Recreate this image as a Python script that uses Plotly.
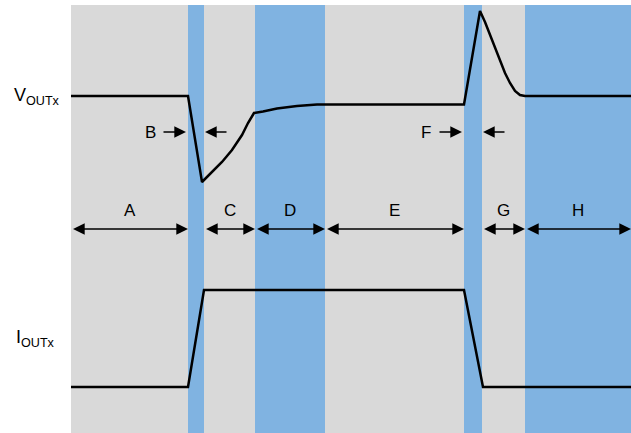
import plotly.graph_objects as go

# phase boundaries (time, arbitrary units) and band colours
phase_names = ["A", "B", "C", "D", "E", "F", "G", "H"]
phase_edges = [0, 117, 133, 184, 254, 393, 411, 454, 560]
phase_blue = [False, True, False, True, False, True, False, True]

# output voltage waveform
v_t = [-1, 117, 131, 141, 151, 161, 171, 177, 183, 192, 206, 226, 246,
       393, 409, 414, 419, 424, 429, 434, 439, 444, 449, 454, 560]
v_y = [337, 337, 251, 261, 271, 283, 298, 310, 320, 321.5, 324.5, 327, 328.5,
       328.5, 422, 411, 398, 385, 371, 360, 350, 342, 338, 337, 337]

# output current waveform
i_t = [-1, 117, 133, 393, 412, 560]
i_y = [46, 46, 143, 143, 46, 46]

# interval-marker rows
span_y = 204
span_label_y = 223
narrow_y = 301

GRAY = "#d9d9d9"
BLUE = "#80b3e1"
FONT = "Liberation Sans, Arial, sans-serif"

fig = go.Figure()

for k in range(len(phase_names)):
    fig.add_shape(type="rect", xref="x", yref="y",
                  x0=phase_edges[k], x1=phase_edges[k + 1], y0=0, y1=428,
                  fillcolor=BLUE if phase_blue[k] else GRAY, line_width=0, layer="below")

fig.add_trace(go.Scatter(x=v_t, y=v_y, mode="lines", line=dict(color="black", width=2.5),
                         cliponaxis=False, hoverinfo="skip"))
fig.add_trace(go.Scatter(x=i_t, y=i_y, mode="lines", line=dict(color="black", width=2.5),
                         cliponaxis=False, hoverinfo="skip"))

font = dict(family=FONT, size=17, color="black")
arrow = dict(showarrow=True, arrowhead=2, arrowsize=1.8, arrowwidth=1.3,
             arrowcolor="black", standoff=0, axref="x", ayref="y", text="")

# double-headed span arrows for the wide phases
for k, name in enumerate(phase_names):
    if name in ("B", "F"):
        continue
    x0, x1 = phase_edges[k], phase_edges[k + 1]
    fig.add_annotation(x=x1, y=span_y, ax=x0 + 0.5, ay=span_y, arrowside="end+start",
                       startstandoff=0, **arrow)
    fig.add_annotation(x=(x0 + x1) / 2, y=span_label_y, text=name, showarrow=False, font=font)

# converging arrows for the narrow transition phases
for name in ("B", "F"):
    k = phase_names.index(name)
    x0, x1 = phase_edges[k], phase_edges[k + 1]
    fig.add_annotation(x=x0 - 2, y=narrow_y, ax=x0 - 26, ay=narrow_y, **arrow)
    fig.add_annotation(x=x1 + 1, y=narrow_y, ax=x1 + 24, ay=narrow_y, **arrow)
    fig.add_annotation(x=x0 - 38, y=narrow_y, text=name, showarrow=False, font=font)

fig.add_annotation(xref="paper", x=-59 / 560, y=v_y[0], xanchor="left", text="V<sub>OUTx</sub>",
                   showarrow=False, font=dict(family=FONT, size=18, color="black"))
fig.add_annotation(xref="paper", x=-57 / 560, y=95, xanchor="left", text="I<sub>OUTx</sub>",
                   showarrow=False, font=dict(family=FONT, size=18, color="black"))

fig.update_layout(
    width=631, height=433,
    margin=dict(l=71, r=0, t=5, b=0),
    paper_bgcolor="white", plot_bgcolor="white",
    showlegend=False,
    xaxis=dict(range=[0, 560], visible=False, fixedrange=True),
    yaxis=dict(range=[0, 428], visible=False, fixedrange=True),
)

fig.write_html("out.html", config={"displayModeBar": False},
               post_script="document.body.style.margin='0';")
